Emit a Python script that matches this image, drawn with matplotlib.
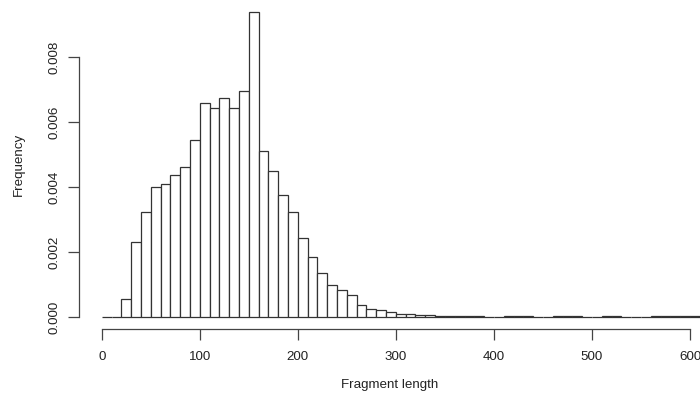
import matplotlib
matplotlib.use("Agg")
import matplotlib.pyplot as plt
import numpy as np

plt.rcParams['font.family'] = ['Liberation Sans', 'DejaVu Sans']

# histogram of fragment lengths, bins of width 10 starting at 0
bin_starts = list(range(0, 610, 10))
density = [
    0, 0, 0.00054, 0.00231, 0.00324, 0.00400, 0.00410, 0.00438, 0.00461, 0.00543,
    0.00658, 0.00643, 0.00674, 0.00643, 0.00695, 0.00938, 0.00512, 0.00450, 0.00374, 0.00322,
    0.00244, 0.00185, 0.00135, 0.00098, 0.00083, 0.00067, 0.00038, 0.00024, 0.00021, 0.00015,
    0.00010, 0.00009, 0.00007, 0.00007, 0.00004, 0.00003, 0.00003, 0.00003, 0.00002, 0.00001,
    0.00001, 0.00002, 0.00002, 0.00002, 0.00001, 0.00001, 0.00002, 0.00004, 0.00003, 0.00001,
    0.00001, 0.00003, 0.00002, 0.00001, 0.00001, 0.00001, 0.00002, 0.00003, 0.00002, 0.00002,
    0.00002,
]
x_ticks = [0, 100, 200, 300, 400, 500, 600]
y_ticks = [0.000, 0.002, 0.004, 0.006, 0.008]

fig = plt.figure(figsize=(7.0, 4.07), dpi=100)
ax = fig.add_axes([0.1129, 0.1912, 1.0 - 0.1129, 0.811])

ax.bar(bin_starts, density, width=10, align='edge', color='white',
       edgecolor='#333333', linewidth=0.9)

ax.set_xlim(-23.2, 610.2)
ax.set_ylim(-0.000376, 0.00978)

# R-style axes: only left and bottom, bounded to the tick range
for side in ['top', 'right']:
    ax.spines[side].set_visible(False)
ax.spines['left'].set_bounds(0, 0.008)
ax.spines['bottom'].set_bounds(0, 600)
for side in ['left', 'bottom']:
    ax.spines[side].set_color('#444444')
    ax.spines[side].set_linewidth(0.9)

ax.set_xticks(x_ticks)
ax.set_xticklabels([str(t) for t in x_ticks])
ax.set_yticks(y_ticks)
ax.set_yticklabels([f"{t:.3f}" for t in y_ticks], rotation=90, va='center')
ax.tick_params(axis='both', length=8, width=0.9, color='#444444',
               labelsize=9.6, labelcolor='#222222')
ax.tick_params(axis='x', pad=8)
ax.tick_params(axis='y', pad=5.5)

ax.set_xlabel("Fragment length", fontsize=9.6, color='#222222', labelpad=11)
ax.set_ylabel("Frequency", fontsize=9.6, color='#222222', labelpad=17)

fig.savefig("out.png", dpi=100)
